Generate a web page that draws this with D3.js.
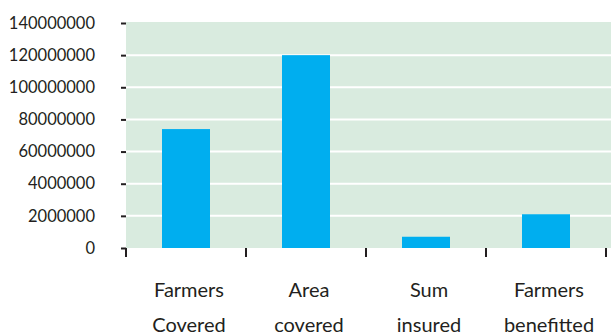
<!DOCTYPE html>
<html>
<head>
<meta charset="utf-8">
<script src="https://cdn.jsdelivr.net/npm/d3@7"></script>
<style>
  html, body { margin: 0; padding: 0; background: #ffffff; }
  svg { display: block; }
  text { font-family: Lato, "Open Sans", sans-serif; fill: #231f20; }
</style>
</head>
<body>
<svg id="chart" width="611" height="336"></svg>
<script>
// Category labels (two lines each) and their values
const categories = ["Farmers Covered", "Area covered", "Sum insured", "Farmers benefitted"];
const labelLines = [["Farmers", "Covered"], ["Area", "covered"], ["Sum", "insured"], ["Farmers", "benefitted"]];
const values = [74000000, 120000000, 7000000, 21000000];

// Y-axis tick values and the labels printed beside them
const tickValues = [0, 20000000, 40000000, 60000000, 80000000, 100000000, 120000000, 140000000];
const tickLabels = ["0", "2000000", "4000000", "60000000", "80000000", "100000000", "120000000", "140000000"];

const svg = d3.select("#chart");
const W = 611;
const plotLeft = 126, plotRight = 606, plotTop = 23, plotBottom = 248;

const y = d3.scaleLinear().domain([0, 140000000]).range([plotBottom, plotTop]);
const x = d3.scaleBand().domain(categories).range([plotLeft, plotRight])
  .paddingInner(0.6).paddingOuter(0.3);

// Plot background
svg.append("rect")
  .attr("x", plotLeft).attr("y", y(140000000) - 1)
  .attr("width", W - plotLeft).attr("height", y(0) - y(140000000) + 1)
  .attr("fill", "#d9ebdf");

// White gridlines at interior ticks
svg.append("g").selectAll("line")
  .data(tickValues.filter(v => v > 0 && v < 140000000))
  .join("line")
  .attr("x1", plotLeft).attr("x2", W)
  .attr("y1", d => y(d)).attr("y2", d => y(d))
  .attr("stroke", "#ffffff").attr("stroke-width", 2);

// Bars
svg.append("g").selectAll("rect")
  .data(values)
  .join("rect")
  .attr("x", (d, i) => x(categories[i]))
  .attr("y", d => y(d))
  .attr("width", x.bandwidth())
  .attr("height", d => y(0) - y(d))
  .attr("fill", "#00aeef");

// Y axis: short ticks and labels, no domain line
const yAxis = d3.axisLeft(y)
  .tickValues(tickValues)
  .tickFormat((d, i) => tickLabels[i])
  .tickSize(5)
  .tickPadding(26);
const gy = svg.append("g").attr("transform", `translate(${plotLeft},0)`).call(yAxis);
gy.select(".domain").remove();
gy.selectAll(".tick line").attr("stroke", "#231f20").attr("stroke-width", 2);
gy.selectAll(".tick text")
  .attr("font-family", "Lato, 'Open Sans', sans-serif")
  .attr("font-size", 16.5).attr("fill", "#231f20");

// X axis: ticks at band boundaries pointing down
const step = x.step();
const boundaries = d3.range(categories.length + 1).map(i => plotLeft + i * step);
svg.append("g").selectAll("line")
  .data(boundaries)
  .join("line")
  .attr("x1", d => d).attr("x2", d => d)
  .attr("y1", plotBottom).attr("y2", plotBottom + 9)
  .attr("stroke", "#231f20").attr("stroke-width", 2);

// Category labels
const lab = svg.append("g").selectAll("text")
  .data(labelLines)
  .join("text")
  .attr("text-anchor", "middle")
  .attr("font-size", 20);
lab.selectAll("tspan")
  .data((d, i) => d.map(t => ({ t, i })))
  .join("tspan")
  .attr("x", d => x(categories[d.i]) + x.bandwidth() / 2 + 3)
  .attr("y", (d, j) => 297 + j * 35)
  .text(d => d.t);
</script>
</body>
</html>
